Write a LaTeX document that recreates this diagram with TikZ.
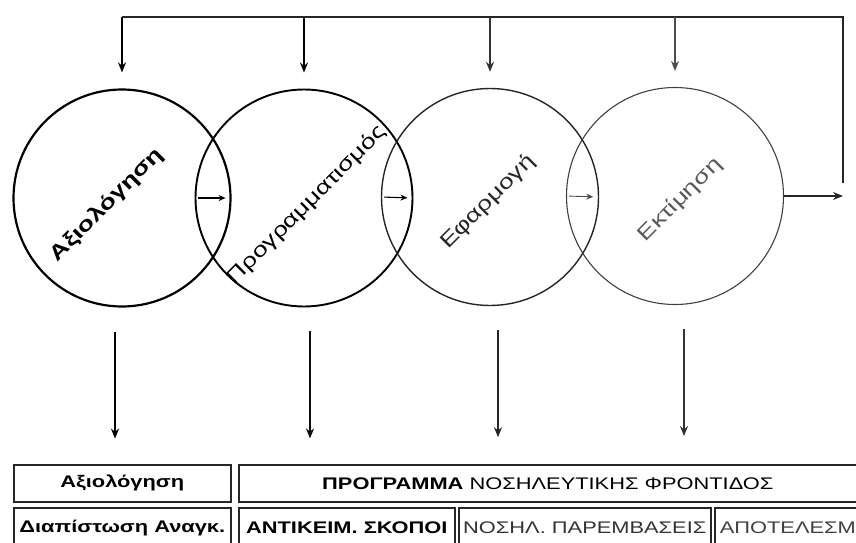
\documentclass[tikz,border=0pt]{standalone}
\usepackage{fontspec}
\setmainfont{Liberation Sans}[FakeStretch=1.3]
\usetikzlibrary{arrows.meta, positioning, calc}

\begin{document}
\begin{tikzpicture}[
    x=1pt, y=-1pt,
    phase/.style={circle, draw, minimum size=217pt, inner sep=0pt},
    phaselabel/.style={rotate=45, font=\fontsize{20.5}{24}\selectfont, inner sep=0pt},
    cell/.style={draw=black!85, line width=1.6pt, minimum height=37pt, inner sep=0pt, anchor=north west, font=\fontsize{16.8}{20}\selectfont},
    arrow/.style={-{Stealth[length=10pt, width=8pt]}, line width=1.8pt},
    smallarrow/.style={-{Stealth[length=7pt, width=6pt]}, line width=1.1pt, shorten <=3pt, shorten >=6pt}
]
    \useasboundingbox (0,0) rectangle (856,543);

    % Phases
    \node[phase, line width=2.2pt] (c1) at (122,198) {};
    \node[phase, line width=1.9pt] (c2) at (304,198) {};
    \node[phase, line width=1.4pt, draw=black!85] (c3) at (490,197) {};
    \node[phase, line width=1.1pt, draw=black!75] (c4) at (675,196) {};

    \node[phaselabel] (l1) at (107,205) {\textbf{Αξιολόγηση}};
    \node[phaselabel] (l2) at (307,205) {Προγραμματισμός};
    \node[phaselabel, text=black!85] (l3) at (488,202) {Εφαρμογή};
    \node[phaselabel, text=black!65] (l4) at (680,200) {Εκτίμηση};

    % Arrows between phases
    \draw[smallarrow] (c2.west) -- (c1.east);
    \draw[smallarrow] (c3.west) -- (c2.east);
    \draw[smallarrow, draw=black!70, line width=0.9pt] (c4.west) -- (c3.east);

    % Feedback
    \coordinate (fb) at (843,198);
    \coordinate (top) at (843,17);
    \draw[arrow, line width=1.5pt, draw=black!85] (c4.east) -- (c4.east -| fb);
    \draw[line width=1.8pt, draw=black!85] ($(fb)+(0,-15)$) -- (top) -- (top -| c1);
    \foreach \c/\w/\k in {c1/2pt/100, c2/1.9pt/100, c3/1.5pt/80, c4/1.3pt/70}
        \draw[arrow, line width=\w, draw=black!\k] (top -| \c) -- ($(\c.north)+(0,-16)$);

    % Down to table
    \foreach \c/\dx/\k in {c1/-7/100, c2/6/95, c3/8/85, c4/9/80}
        \draw[arrow, line width=2pt, draw=black!\k] ([xshift=\dx pt]\c.south) ++(0,24) -- ++(0,107);

    % Table
    \node[cell, minimum width=217pt] (eval) at (13,464) {\textbf{Αξιολόγηση}};
    \node[cell, minimum width=618pt] (plan) at (238,464) {\textbf{ΠΡΟΓΡΑΜΜΑ} ΝΟΣΗΛΕΥΤΙΚΗΣ ΦΡΟΝΤΙΔΟΣ};
    \node[cell, minimum width=217pt, minimum height=40pt] (needs) at (13,507) {\textbf{Διαπίστωση Αναγκ.}};
    \node[cell, minimum width=216pt, minimum height=40pt] (aims) at (238,507) {\textbf{ΑΝΤΙΚΕΙΜ. ΣΚΟΠΟΙ}};
    \node[cell, minimum width=252pt, minimum height=40pt, text=black!80] (acts) at (458,507) {ΝΟΣΗΛ. ΠΑΡΕΜΒΑΣΕΙΣ};
    \node[cell, minimum width=146pt, minimum height=40pt, text=black!75] (res) at (714,507) {ΑΠΟΤΕΛΕΣΜ};
\end{tikzpicture}
\end{document}
